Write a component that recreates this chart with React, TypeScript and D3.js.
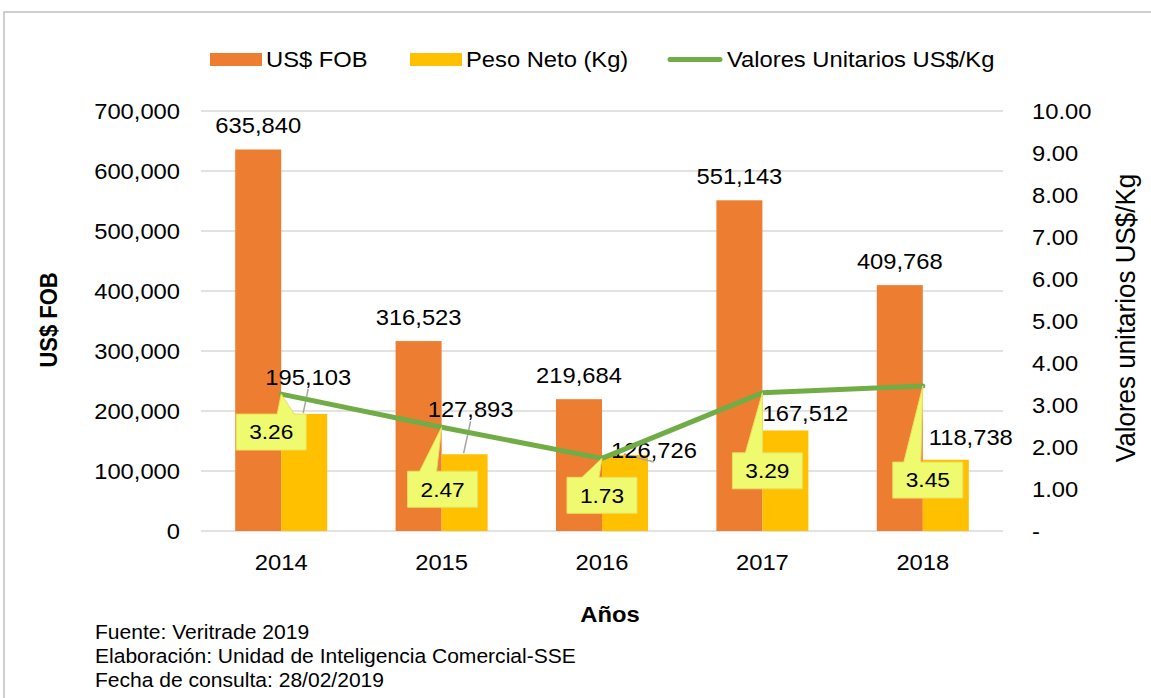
import React from "react";
import * as d3 from "d3";

const years = ["2014", "2015", "2016", "2017", "2018"];
const fobValues = [635840, 316523, 219684, 551143, 409768];
const pesoValues = [195103, 127893, 126726, 167512, 118738];
const unitValues = [3.26, 2.47, 1.73, 3.29, 3.45];
const leftTicks = [0, 100000, 200000, 300000, 400000, 500000, 600000, 700000];
const rightTicks = [0, 1, 2, 3, 4, 5, 6, 7, 8, 9, 10];
const legendLabels = ["US$ FOB", "Peso Neto (Kg)", "Valores Unitarios US$/Kg"];
const footnotes = [
  "Fuente: Veritrade 2019",
  "Elaboración: Unidad de Inteligencia Comercial-SSE",
  "Fecha de consulta: 28/02/2019",
];

// layout constants (label placement offsets, as moved in the original)
const pesoLabelOffsets = [
  [4, -37], [6, -45], [29, -5], [20, -17], [25, -22],
];
const pesoLeaders = [true, true, true, false, false];
const calloutOffsets = [
  [-10, 38], [1, 62], [0, 37], [5, 78], [5, 94],
];
const calloutBase = [41, 12, 15, 13, 11];

const W = 1151;
const H = 698;
const SX = 1.08;
const FONT = "'Liberation Sans', Arial, sans-serif";
const ORANGE = "#ED7D31";
const YELLOW = "#FFC000";
const GREEN = "#70AD47";
const GRID = "#D9D9D9";

function T({ x, y, size = 22, anchor = "middle", weight = "normal", rotate = false, children }: any) {
  const tr = rotate
    ? `translate(${x},${y}) rotate(-90) scale(1,${SX})`
    : `translate(${x},${y}) scale(${SX},1)`;
  return (
    <text
      transform={tr}
      textAnchor={anchor}
      fontSize={size}
      fontWeight={weight}
      fontFamily={FONT}
      fill="#000"
      dy={size * 0.35}
    >
      {children}
    </text>
  );
}

export default function App() {
  const left = 201, right = 1003, top = 111, bottom = 531;
  const x = d3.scaleBand<string>().domain(years).range([left, right]).paddingInner(0.4264).paddingOuter(0.2132);
  const bw = x.bandwidth() / 2;
  const yL = d3.scaleLinear().domain([0, 700000]).range([bottom, top]);
  const yR = d3.scaleLinear().domain([0, 10]).range([bottom, top]);
  const fmt = d3.format(",");
  const cx = (i: number) => (x(years[i]) as number) + bw;
  const line = d3.line<number>().x((_, i) => cx(i)).y((d) => yR(d));

  const BW = 70, BH = 36;

  return (
    <svg width={W} height={H} style={{ position: "absolute", left: 0, top: 0, background: "#fff" }}>
      <rect x={4} y={12} width={W + 10} height={H + 10} fill="#fff" stroke="#BFBFBF" strokeWidth={1.5} />

      {/* gridlines */}
      {leftTicks.map((t) => (
        <line key={t} x1={left} x2={right} y1={yL(t)} y2={yL(t)} stroke={GRID} strokeWidth={1.5} />
      ))}

      {/* left ticks */}
      {leftTicks.map((t) => (
        <T key={t} x={180} y={yL(t)} anchor="end">{fmt(t)}</T>
      ))}
      {/* right ticks */}
      {rightTicks.map((t) => (
        <T key={t} x={1032} y={yR(t)} anchor="start">{t === 0 ? "-" : t.toFixed(2)}</T>
      ))}

      {/* bars */}
      {years.map((yr, i) => (
        <g key={yr}>
          <rect x={x(yr)} y={yL(fobValues[i])} width={bw} height={bottom - yL(fobValues[i])} fill={ORANGE} />
          <rect x={(x(yr) as number) + bw} y={yL(pesoValues[i])} width={bw} height={bottom - yL(pesoValues[i])} fill={YELLOW} />
        </g>
      ))}

      {/* x labels */}
      {years.map((yr, i) => (
        <T key={yr} x={cx(i)} y={562}>{yr}</T>
      ))}

      {/* FOB labels */}
      {years.map((yr, i) => (
        <T key={yr} x={(x(yr) as number) + bw / 2} y={yL(fobValues[i]) - 24}>{fmt(fobValues[i])}</T>
      ))}

      {/* Peso labels + leaders */}
      {years.map((yr, i) => {
        const bx = (x(yr) as number) + bw * 1.5;
        const by = yL(pesoValues[i]);
        const lx = bx + pesoLabelOffsets[i][0];
        const ly = by + pesoLabelOffsets[i][1];
        return (
          <g key={yr}>
            {pesoLeaders[i] && (
              <line x1={lx} y1={ly + 12} x2={bx - 1} y2={by - 1} stroke="#A6A6A6" strokeWidth={1.5} />
            )}
            <T x={lx} y={ly}>{fmt(pesoValues[i])}</T>
          </g>
        );
      })}

      {/* line */}
      <path d={line(unitValues) as string} fill="none" stroke={GREEN} strokeWidth={5} strokeLinejoin="round" strokeLinecap="round" />

      {/* callouts */}
      {unitValues.map((v, i) => {
        const px = cx(i), py = yR(v);
        const bcx = px + calloutOffsets[i][0];
        const bcy = py + calloutOffsets[i][1];
        const bx0 = bcx - BW / 2, by0 = bcy - BH / 2;
        const b1 = bx0 + calloutBase[i];
        const b2 = b1 + 17;
        const d = `M${bx0},${by0} L${b1},${by0} L${px},${py} L${b2},${by0} L${bx0 + BW},${by0} L${bx0 + BW},${by0 + BH} L${bx0},${by0 + BH} Z`;
        return (
          <g key={i}>
            <path d={d} fill="#EFFA6E" stroke="#E8E060" strokeWidth={1} />
            <T x={bcx} y={bcy} size={21}>{v.toFixed(2)}</T>
          </g>
        );
      })}

      {/* axis titles */}
      <T x={49} y={320} weight="bold" rotate>US$ FOB</T>
      <T x={1125} y={318} size={26} rotate>Valores unitarios US$/Kg</T>
      <T x={610} y={614} weight="bold">Años</T>

      {/* legend */}
      <rect x={210} y={53} width={52} height={13} fill={ORANGE} />
      <T x={266} y={59} anchor="start">{legendLabels[0]}</T>
      <rect x={410} y={53} width={52} height={13} fill={YELLOW} />
      <T x={466} y={59} anchor="start">{legendLabels[1]}</T>
      <line x1={670} x2={720} y1={59.5} y2={59.5} stroke={GREEN} strokeWidth={5} strokeLinecap="round" />
      <T x={727} y={59} anchor="start">{legendLabels[2]}</T>

      {/* footnotes */}
      {footnotes.map((f, i) => (
        <T key={i} x={95} y={632 + i * 24} size={19.5} anchor="start">{f}</T>
      ))}
    </svg>
  );
}
